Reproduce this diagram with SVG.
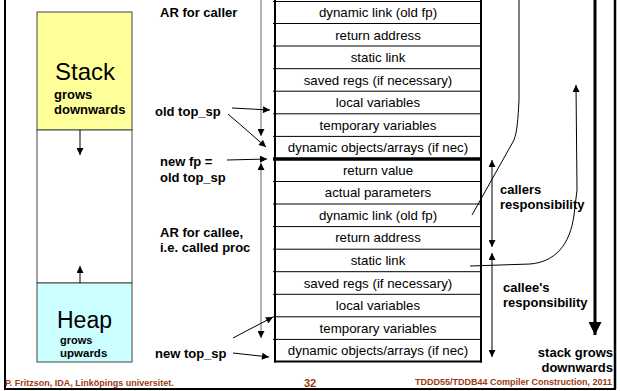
<svg xmlns="http://www.w3.org/2000/svg" width="620" height="391" viewBox="0 0 620 391">
<style>
text{font-family:"Liberation Sans",Arial,sans-serif;fill:#000}
.cell{font-size:13.3px;text-anchor:middle}
.lbl{font-size:13px;font-weight:bold}
.foot{font-size:9px;font-weight:bold;fill:#9c3a12}
.row{stroke:#000;stroke-width:1}
.thin{stroke:#000;stroke-width:1;fill:none}
.grey{stroke:#666;stroke-width:1;fill:none}
</style>
<defs>
<marker id="ah" viewBox="0 0 10 10" refX="10" refY="5" markerWidth="8" markerHeight="7" markerUnits="userSpaceOnUse" orient="auto-start-reverse"><path d="M0,0 L10,5 L0,10 z" fill="#000"/></marker>
<marker id="big" viewBox="0 0 10 10" refX="10" refY="5" markerWidth="13" markerHeight="13" markerUnits="userSpaceOnUse" orient="auto"><path d="M0,0 L10,5 L0,10 z" fill="#000"/></marker>
</defs>
<rect width="620" height="391" fill="#fff"/>
<!-- frame -->
<g id="frame" stroke="#000" fill="none">
<line x1="5" y1="0" x2="5" y2="389" stroke-width="2"/>
<line x1="615" y1="0" x2="615" y2="389" stroke-width="2.5"/>
<line x1="4" y1="389" x2="616" y2="389" stroke-width="2"/>
</g>
<!-- memory column -->
<g id="memory">
<rect x="37" y="12" width="95" height="118" fill="#ffff99" stroke="#444"/>
<rect x="37" y="130" width="95" height="153" fill="#fff" stroke="#444"/>
<rect x="37" y="283" width="95" height="79" fill="#ccffff" stroke="#444"/>
<text x="55" y="80" style="font-size:24px">Stack</text>
<text x="54" y="99" style="font-size:13px;font-weight:bold">grows</text>
<text x="54" y="114" style="font-size:13px;font-weight:bold">downwards</text>
<text x="57" y="328" style="font-size:23px">Heap</text>
<text x="60" y="344" style="font-size:11px;font-weight:bold">grows</text>
<text x="60" y="357" style="font-size:11.5px;font-weight:bold">upwards</text>
<line x1="80" y1="130" x2="80" y2="155" class="thin" marker-end="url(#ah)"/>
<line x1="80" y1="283" x2="80" y2="266" class="thin" marker-end="url(#ah)"/>
</g>
<!-- table -->
<g id="ar-table">
<g class="row">
<line x1="273" y1="1.5" x2="481" y2="1.5"/>
<line x1="273" y1="23.5" x2="481" y2="23.5"/>
<line x1="273" y1="46" x2="481" y2="46"/>
<line x1="273" y1="68.7" x2="481" y2="68.7"/>
<line x1="273" y1="91.2" x2="481" y2="91.2"/>
<line x1="273" y1="113.8" x2="481" y2="113.8"/>
<line x1="273" y1="136.4" x2="481" y2="136.4"/>
<line x1="273" y1="181.5" x2="481" y2="181.5"/>
<line x1="273" y1="204" x2="481" y2="204"/>
<line x1="273" y1="226.6" x2="481" y2="226.6"/>
<line x1="273" y1="249.2" x2="481" y2="249.2"/>
<line x1="273" y1="271.7" x2="481" y2="271.7"/>
<line x1="273" y1="294.3" x2="481" y2="294.3"/>
<line x1="273" y1="316.8" x2="481" y2="316.8"/>
<line x1="273" y1="339.4" x2="481" y2="339.4"/>
</g>
<line x1="273" y1="159" x2="482" y2="159" stroke="#000" stroke-width="3.5"/>
<line x1="274" y1="361.5" x2="482" y2="361.5" stroke="#000" stroke-width="2"/>
<line x1="275" y1="0" x2="275" y2="362.5" stroke="#000" stroke-width="2"/>
<line x1="481" y1="0" x2="481" y2="362.5" stroke="#000" stroke-width="2"/>
<g id="caller-rows">
<text class="cell" x="378" y="17">dynamic link (old fp)</text>
<text class="cell" x="378" y="39.5">return address</text>
<text class="cell" x="378" y="62">static link</text>
<text class="cell" x="378" y="84.5">saved regs (if necessary)</text>
<text class="cell" x="378" y="107">local variables</text>
<text class="cell" x="378" y="129.7">temporary variables</text>
<text class="cell" x="378" y="152.2">dynamic objects/arrays (if nec)</text>
</g>
<g id="callee-rows">
<text class="cell" x="378" y="174.7">return value</text>
<text class="cell" x="378" y="197.3">actual parameters</text>
<text class="cell" x="378" y="219.8">dynamic link (old fp)</text>
<text class="cell" x="378" y="242.4">return address</text>
<text class="cell" x="378" y="265">static link</text>
<text class="cell" x="378" y="287.5">saved regs (if necessary)</text>
<text class="cell" x="378" y="310">local variables</text>
<text class="cell" x="378" y="332.6">temporary variables</text>
<text class="cell" x="378" y="355.2">dynamic objects/arrays (if nec)</text>
</g>
</g>
<!-- labels -->
<g id="labels">
<text class="lbl" x="160" y="17">AR for caller</text>
<text class="lbl" x="155" y="116">old top_sp</text>
<text class="lbl" x="160" y="166">new fp =</text>
<text class="lbl" x="160" y="182">old top_sp</text>
<text class="lbl" x="160" y="237">AR for callee,</text>
<text class="lbl" x="160" y="252">i.e. called proc</text>
<text class="lbl" x="155" y="358">new top_sp</text>
<text class="lbl" x="500" y="194">callers</text>
<text class="lbl" x="500" y="209">responsibility</text>
<text class="lbl" x="503" y="292">callee's</text>
<text class="lbl" x="503" y="307">responsibility</text>
<text class="lbl" x="613" y="357" text-anchor="end">stack grows</text>
<text class="lbl" x="613" y="372" text-anchor="end">downwards</text>
</g>
<!-- connectors -->
<g id="connectors">
<line x1="261" y1="0" x2="261" y2="136" class="grey" marker-end="url(#ah)"/>
<line x1="261" y1="163" x2="261" y2="338" class="grey" marker-start="url(#ah)" marker-end="url(#ah)"/>
<line x1="232" y1="108" x2="270" y2="110" class="thin" marker-end="url(#ah)"/>
<line x1="228" y1="114" x2="266" y2="147" class="thin" marker-end="url(#ah)"/>
<line x1="227" y1="160" x2="267" y2="159" class="thin" marker-end="url(#ah)"/>
<line x1="233" y1="338" x2="273" y2="317" class="thin" marker-end="url(#ah)"/>
<line x1="233" y1="353" x2="269" y2="357" class="thin" marker-end="url(#ah)"/>
<line x1="492" y1="160" x2="492" y2="247" class="thin" marker-start="url(#ah)" marker-end="url(#ah)"/>
<line x1="492" y1="253" x2="492" y2="357" class="thin" marker-start="url(#ah)" marker-end="url(#ah)"/>
<path d="M472,215 L514,140 C517,132 518,120 519,100 L519,0" class="thin"/>
<path d="M470,266 L530,264 C555,262 570,245 574,215 L577,190 L576,85" class="thin" marker-end="url(#ah)"/>
<line x1="595" y1="0" x2="595" y2="335" stroke="#000" stroke-width="3" marker-end="url(#big)"/>
</g>
<!-- footer -->
<g id="footer">
<text class="foot" x="5" y="386">P. Fritzson, IDA, Linköpings universitet.</text>
<text class="foot" x="310" y="387" text-anchor="middle" style="font-size:11px">32</text>
<text class="foot" x="612" y="385" text-anchor="end">TDDD55/TDDB44 Compiler Construction,  2011</text>
</g>
</svg>
